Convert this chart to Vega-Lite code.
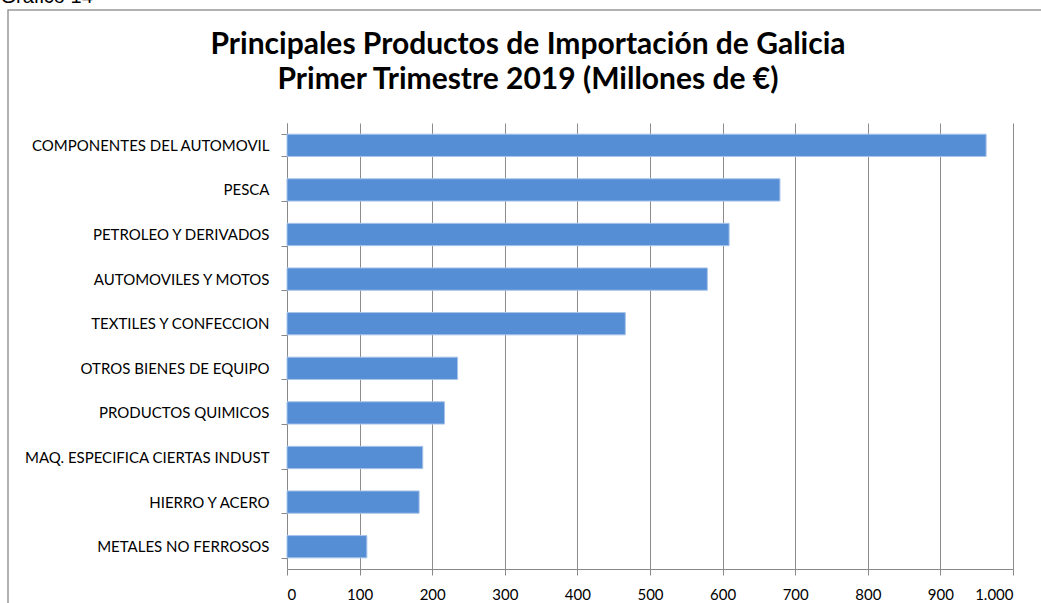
{
  "$schema": "https://vega.github.io/schema/vega-lite/v6.json",
  "width": 1040,
  "height": 672,
  "autosize": {"type": "none"},
  "padding": {"left": 8, "top": 10, "right": 0, "bottom": 0},
  "background": "white",
  "title": {
    "text": ["Principales Productos de Importación de Galicia", "Primer Trimestre 2019 (Millones de €)"],
    "font": "Lato",
    "fontSize": 30,
    "fontWeight": "bold",
    "color": "#000000",
    "lineHeight": 35,
    "anchor": "middle",
    "frame": "group",
    "baseline": "alphabetic",
    "offset": -46,
    "dy": 87
  },
  "data": {
    "values": [
      {"producto": "COMPONENTES DEL AUTOMOVIL", "valor": 963},
      {"producto": "PESCA", "valor": 679},
      {"producto": "PETROLEO Y DERIVADOS", "valor": 609},
      {"producto": "AUTOMOVILES Y MOTOS", "valor": 579},
      {"producto": "TEXTILES Y CONFECCION", "valor": 466},
      {"producto": "OTROS BIENES DE EQUIPO", "valor": 235},
      {"producto": "PRODUCTOS QUIMICOS", "valor": 217},
      {"producto": "MAQ. ESPECIFICA CIERTAS INDUST", "valor": 187},
      {"producto": "HIERRO Y ACERO", "valor": 182},
      {"producto": "METALES NO FERROSOS", "valor": 110}
    ]
  },
  "mark": {"type": "bar", "color": "#558ed5", "stroke": "#a9c4ea", "strokeWidth": 1},
  "encoding": {
    "y": {
      "field": "producto",
      "type": "nominal",
      "sort": "-x",
      "scale": {"range": [113, 559], "paddingInner": 0.5, "paddingOuter": 0.25},
      "axis": {
        "orient": "left",
        "offset": -279,
        "title": "Gráfico 14",
        "titleX": -287,
        "titleY": -8,
        "titleAngle": 0,
        "titleAlign": "left",
        "titleBaseline": "alphabetic",
        "titleFont": "Liberation Sans",
        "titleFontSize": 20,
        "titleFontWeight": "normal",
        "titleColor": "#000000",
        "labelFont": "Lato",
        "labelFontSize": 15,
        "labelColor": "#000000",
        "labelPadding": 12,
        "labelLimit": 400,
        "tickBand": "extent",
        "tickSize": 6,
        "tickColor": "#888888",
        "domainColor": "#888888",
        "grid": false
      }
    },
    "x": {
      "field": "valor",
      "type": "quantitative",
      "scale": {"domain": [0, 1000], "range": [279, 1005], "nice": false, "zero": true},
      "axis": {
        "orient": "bottom",
        "offset": -113,
        "title": null,
        "values": [0, 100, 200, 300, 400, 500, 600, 700, 800, 900, 1000],
        "labelExpr": "replace(format(datum.value, ','), ',', '.')",
        "labelFont": "Lato",
        "labelFontSize": 15,
        "labelColor": "#000000",
        "labelPadding": 12,
        "tickSize": 6,
        "tickColor": "#888888",
        "domainColor": "#888888",
        "grid": true,
        "gridColor": "#8c8c8c",
        "gridWidth": 1
      }
    }
  },
  "config": {
    "view": {"stroke": "#999999", "strokeWidth": 1.5}
  }
}
